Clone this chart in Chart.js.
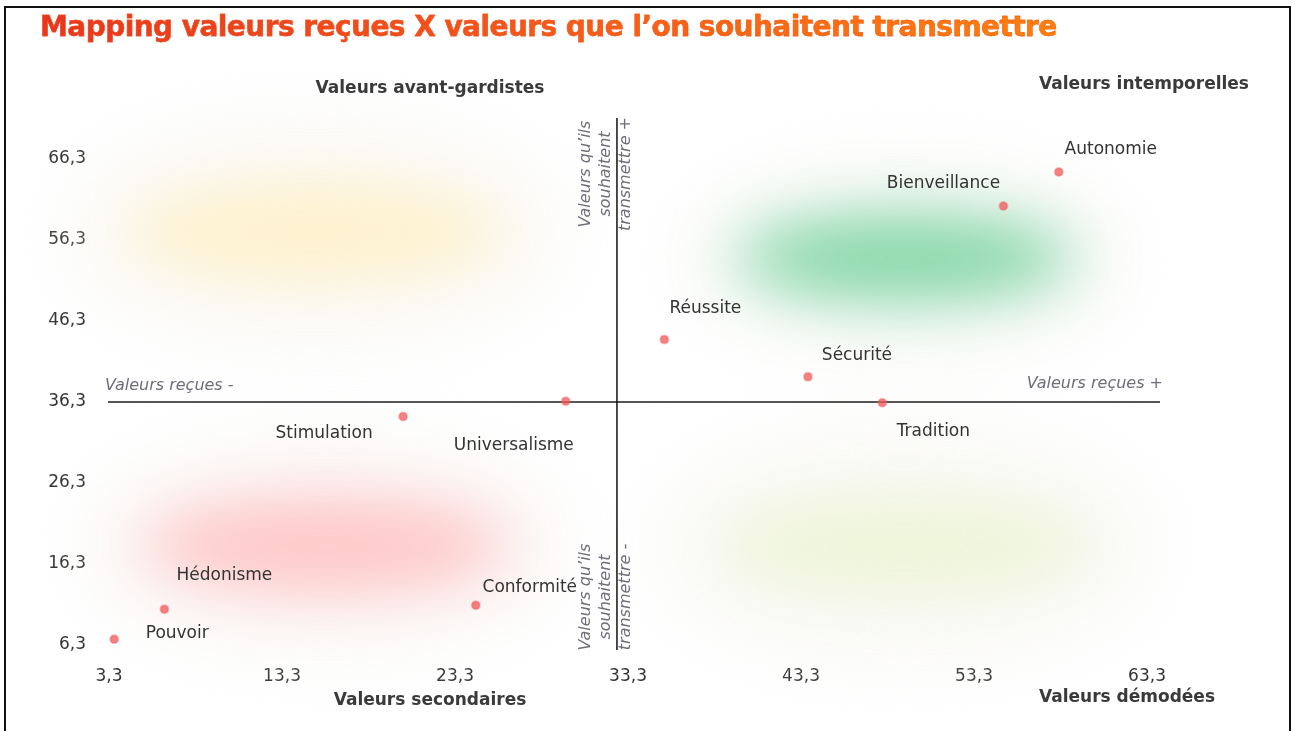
<!DOCTYPE html>
<html>
<head>
<meta charset="utf-8">
<script src="https://cdn.jsdelivr.net/npm/chart.js@4.4.1/dist/chart.umd.min.js"></script>
<style>
  html, body { margin: 0; padding: 0; background: #fff; }
  #wrap { position: relative; width: 1295px; height: 731px; overflow: hidden; }
  #frame { position: absolute; left: 4px; top: 6px; width: 1283px; height: 740px;
           border: 2px solid #111; }
  #title { position: absolute; left: 40px; top: 10px; margin: 0;
           font: bold 28px "DejaVu Sans", Verdana, sans-serif; letter-spacing: -0.55px;
           background: linear-gradient(90deg, #e8361f 0%, #f4591a 50%, #ff7f0a 100%);
           -webkit-background-clip: text; background-clip: text; color: transparent;
           -webkit-text-stroke: 0.4px #f0501a; }
  canvas { position: absolute; left: 0; top: 0; }
</style>
</head>
<body>
<div id="wrap">
  <canvas id="mapChart" width="1295" height="731"></canvas>
  <div id="frame"></div>
  <h1 id="title">Mapping valeurs reçues X valeurs que l’on souhaitent transmettre</h1>
</div>
<script>
// values
const valueNames = ["Pouvoir", "Hédonisme", "Stimulation", "Universalisme", "Conformité",
  "Réussite", "Sécurité", "Tradition", "Bienveillance", "Autonomie"];
const receivedValues = [3.6, 6.5, 20.3, 29.7, 24.5, 35.4, 43.7, 48.0, 55.0, 58.2];
const transmitValues = [7.0, 10.7, 34.5, 36.4, 11.2, 44.0, 39.4, 36.2, 60.5, 64.7];
const xTicks = [3.3, 13.3, 23.3, 33.3, 43.3, 53.3, 63.3];
const yTicks = [6.3, 16.3, 26.3, 36.3, 46.3, 56.3, 66.3];

// where each label sits around its point (pixels)
const labelOffsets = [[63, -6], [60, -34], [-79, 17], [-52, 44], [54, -18],
  [41, -31], [49, -21], [51, 29], [-60, -22], [52, -22]];

const crossX = 32.66;
const crossY = 36.3;

// soft colour zones, centre and radius in data units
const zones = [
  { cx: 15.2, cy: 57.3, rx: 11, ry: 6, color: "rgba(255,240,195,0.85)" },
  { cx: 49.3, cy: 54.1, rx: 9.8, ry: 5.2, color: "rgba(115,210,155,0.9)" },
  { cx: 15.8, cy: 18.6, rx: 10.7, ry: 5.8, color: "rgba(255,185,185,0.8)" },
  { cx: 49.3, cy: 18.6, rx: 11, ry: 6.2, color: "rgba(236,244,210,0.85)" },
];

const fmt = (v) => v.toFixed(1).replace(".", ",");

const zonePlugin = {
  id: "zones",
  beforeDatasetsDraw(chart) {
    const { ctx, scales: { x, y } } = chart;
    zones.forEach((z) => {
      const cx = x.getPixelForValue(z.cx);
      const cy = y.getPixelForValue(z.cy);
      const rx = Math.abs(x.getPixelForValue(z.cx + z.rx) - cx);
      const ry = Math.abs(y.getPixelForValue(z.cy + z.ry) - cy);
      ctx.save();
      ctx.filter = "blur(40px)";
      ctx.fillStyle = "rgba(240,236,230,0.3)";
      ctx.beginPath();
      ctx.ellipse(cx, cy, rx * 1.3, ry * 2.3, 0, 0, Math.PI * 2);
      ctx.fill();
      ctx.filter = "blur(32px)";
      ctx.fillStyle = z.color;
      ctx.beginPath();
      ctx.ellipse(cx, cy, rx, ry, 0, 0, Math.PI * 2);
      ctx.fill();
      ctx.restore();
    });

    // the two crossing axes
    ctx.save();
    ctx.strokeStyle = "#555";
    ctx.lineWidth = 2;
    const yy = y.getPixelForValue(crossY);
    ctx.beginPath();
    ctx.moveTo(x.left, yy);
    ctx.lineTo(x.right, yy);
    ctx.stroke();
    ctx.strokeStyle = "#111";
    ctx.lineWidth = 1.5;
    const xx = x.getPixelForValue(crossX);
    ctx.beginPath();
    ctx.moveTo(xx, y.top);
    ctx.lineTo(xx, y.bottom);
    ctx.stroke();

    // axis captions
    ctx.fillStyle = "#6e6e78";
    ctx.font = "italic 16px 'DejaVu Sans'";
    ctx.textBaseline = "middle";
    ctx.textAlign = "left";
    ctx.fillText("Valeurs reçues -", x.left - 3, yy - 16);
    ctx.textAlign = "right";
    ctx.fillText("Valeurs reçues +", x.right + 3, yy - 18);

    const vert = (cyPix, sign) => {
      ctx.save();
      ctx.translate(xx - 11, cyPix);
      ctx.rotate(-Math.PI / 2);
      ctx.textAlign = "center";
      ctx.fillText("Valeurs qu’ils", 0, -20);
      ctx.fillText("souhaitent", 0, 0);
      ctx.fillText("transmettre " + sign, 0, 20);
      ctx.restore();
    };
    vert(y.top + 56, "+");
    vert(y.bottom - 53, "-");
    ctx.restore();
  },
  afterDatasetsDraw(chart) {
    const { ctx } = chart;
    const meta = chart.getDatasetMeta(0);
    ctx.save();
    ctx.fillStyle = "#333";
    ctx.font = "17px 'DejaVu Sans'";
    ctx.textAlign = "center";
    ctx.textBaseline = "middle";
    meta.data.forEach((pt, i) => {
      ctx.fillText(valueNames[i], pt.x + labelOffsets[i][0], pt.y + labelOffsets[i][1]);
    });

    // quadrant titles
    ctx.fillStyle = "#3a3a3a";
    ctx.font = "bold 17px 'DejaVu Sans'";
    ctx.fillText("Valeurs avant-gardistes", 430, 89);
    ctx.fillText("Valeurs intemporelles", 1144, 85);
    ctx.fillText("Valeurs secondaires", 430, 701);
    ctx.fillText("Valeurs démodées", 1127, 698);
    ctx.restore();
  },
};

new Chart(document.getElementById("mapChart"), {
  type: "scatter",
  data: {
    datasets: [
      {
        label: "Valeurs",
        data: receivedValues.map((v, i) => ({ x: v, y: transmitValues[i] })),
        backgroundColor: "rgba(242,88,88,0.75)",
        borderColor: "rgba(242,88,88,0.35)",
        borderWidth: 2,
        pointRadius: 4,
      },
    ],
  },
  options: {
    responsive: false,
    animation: false,
    layout: { padding: { left: 8, right: 135, top: 118, bottom: 41 } },
    plugins: {
      legend: { display: false },
      tooltip: { enabled: false },
    },
    scales: {
      x: {
        type: "linear",
        min: 3.24,
        max: 64.05,
        grid: { display: false },
        border: { display: false },
        afterBuildTicks: (s) => { s.ticks = xTicks.map((v) => ({ value: v })); },
        afterFit: (s) => { s.height = 40; },
        ticks: {
          color: "#333",
          font: { family: "'DejaVu Sans'", size: 17 },
          padding: 8,
          maxRotation: 0,
          callback: (v) => fmt(v),
        },
      },
      y: {
        type: "linear",
        min: 5.68,
        max: 71.36,
        grid: { display: false },
        border: { display: false },
        afterBuildTicks: (s) => { s.ticks = yTicks.map((v) => ({ value: v })); },
        afterFit: (s) => { s.width = 100; },
        ticks: {
          color: "#333",
          font: { family: "'DejaVu Sans'", size: 17 },
          padding: 14,
          callback: (v) => fmt(v),
        },
      },
    },
  },
  plugins: [zonePlugin],
});
</script>
</body>
</html>
